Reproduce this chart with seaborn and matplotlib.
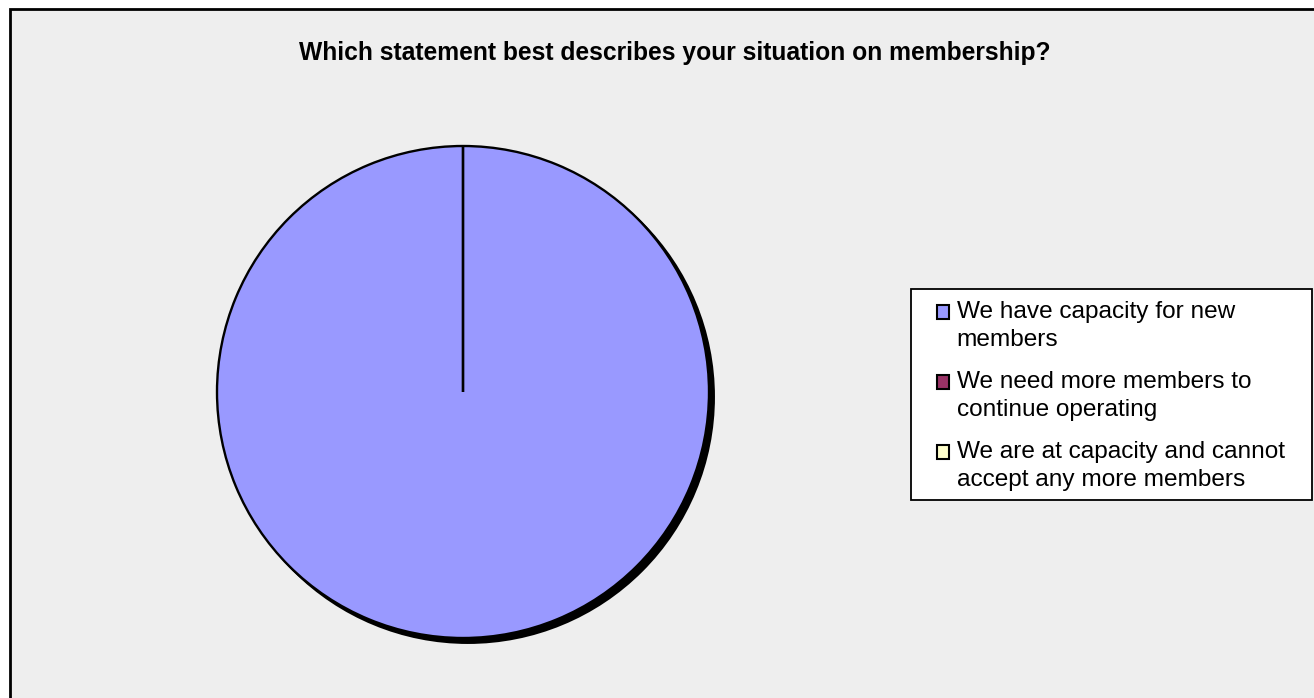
import matplotlib
matplotlib.use("Agg")
import matplotlib.pyplot as plt
from matplotlib.patches import Rectangle, Circle
from matplotlib.legend_handler import HandlerPatch
import seaborn as sns

# Survey responses (share of respondents, %)
categories = [
    "We have capacity for new\nmembers",
    "We need more members to\ncontinue operating",
    "We are at capacity and cannot\naccept any more members",
]
shares = [100, 0, 0]
slice_colors = ["#9999FF", "#993366", "#FFFFCC"]
title = "Which statement best describes your situation on membership?"

sns.set_style("white")
plt.rcParams["font.family"] = ["Liberation Sans", "DejaVu Sans"]
plt.rcParams["text.color"] = "black"

W, H = 1314, 698
fig = plt.figure(figsize=(W / 100, H / 100), dpi=100, facecolor="white")

# Chart area panel with black frame
fig.patches.append(Rectangle((10 / W, -0.02), 1.2, 1 - 9 / H + 0.02,
                             transform=fig.transFigure, facecolor="#EEEEEE",
                             edgecolor="black", linewidth=2.0, zorder=-2))

cx, cy, r = 463, 392, 246
ax = fig.add_axes([(cx - r) / W, (H - cy - r) / H, 2 * r / W, 2 * r / H])
ax.set_aspect("equal")
ax.axis("off")

palette = sns.color_palette(slice_colors)
# drop shadow behind the pie
ax.add_patch(Circle((0.02, -0.02), 1.0, facecolor="black", edgecolor="black",
                    linewidth=1.5, zorder=0, clip_on=False))
wedges, _ = ax.pie(shares, colors=palette, startangle=90, counterclock=False,
                   radius=1.0, wedgeprops=dict(edgecolor="black", linewidth=1.7),
                   normalize=True)
for w in wedges:
    w.set_clip_on(False)
    w.set_zorder(2)
ax.set_xlim(-1, 1)
ax.set_ylim(-1, 1)

fig.text(675 / W, 1 - 53 / H, title, ha="center", va="center",
         fontsize=17.7, fontweight="bold", color="black")

# Legend box
lx0, lx1, ly0, ly1 = 911, 1312, 289, 500
fig.patches.append(Rectangle((lx0 / W, 1 - ly1 / H), (lx1 - lx0) / W,
                             (ly1 - ly0) / H, transform=fig.transFigure,
                             facecolor="white", edgecolor="black",
                             linewidth=1.3, zorder=-1))

leg_fs = 17.6
line_pt = 29 * 0.72  # pitch between the two lines of a label, in points


def top_square(legend, orig_handle, xdescent, ydescent, width, height, fontsize):
    # square aligned with the first line of a two-line label
    return Rectangle((-xdescent, -ydescent + line_pt / 2), width, height)


leg = fig.legend(wedges, categories, loc="upper left",
                 bbox_to_anchor=(937 / W, 1 - 301 / H),
                 frameon=False, fontsize=leg_fs, labelcolor="black",
                 handlelength=0.5, handleheight=0.5, handletextpad=0.3,
                 borderpad=0, labelspacing=0.8, borderaxespad=0,
                 handler_map={type(wedges[0]): HandlerPatch(patch_func=top_square)})
for t in leg.get_texts():
    t.set_linespacing(1.38)
for h in leg.legend_handles:
    h.set_linewidth(1.5)
    h.set_edgecolor("black")

fig.savefig("out.png", dpi=100, facecolor="white")
